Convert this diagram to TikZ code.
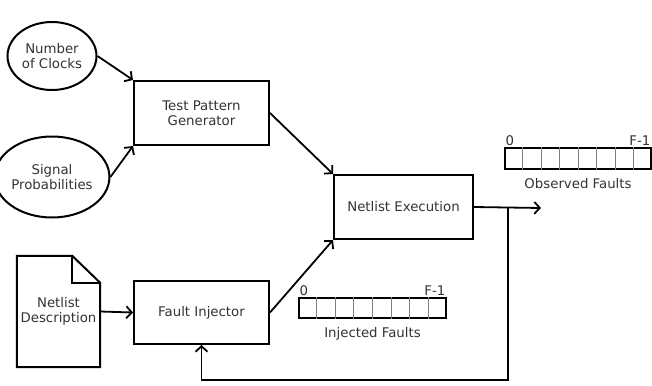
\documentclass[tikz,border=0pt]{standalone}
\usepackage{fontspec}
\setmainfont{DejaVu Sans}
\usetikzlibrary{positioning, arrows.meta, shapes.geometric, calc}

\begin{document}
\begin{tikzpicture}[
    x=1pt, y=-1pt, % Pixel-like units, y pointing down
    font=\fontsize{13.3}{15.5}\selectfont,
    every node/.style={text=black!80},
    box/.style={draw, line width=2pt, minimum width=135pt, minimum height=64pt, align=center}, % Style for process blocks
    source/.style={draw, ellipse, line width=2pt, align=center, inner sep=0pt}, % Style for inputs
    faults/.style={draw, line width=2pt, minimum width=146pt, minimum height=21pt, inner sep=0pt}, % Style for fault arrays
    cell/.style={gray, line width=1pt},
    idx/.style={inner sep=1.5pt},
    flow/.style={line width=1.8pt, -{Straight Barb[length=5.5pt, width=12pt, line width=1.8pt]}}
  ]
    \useasboundingbox (0,0) rectangle (652,385);

    % Define nodes
    \node (clocks) [source, minimum width=89pt, minimum height=68pt] at (52,56)      {Number\\of Clocks};
    \node (signal) [source, minimum width=91pt, minimum height=81pt] at (52,177)     {Signal\\Probabilities};
    \node (tpg)    [box]                                            at (201.5,113)   {Test Pattern\\Generator};
    \node (exec)   [box, minimum width=139pt]                       at (403.5,207)   {Netlist Execution};
    \node (inj)    [box, minimum height=63pt]                       at (201.5,312.5) {Fault Injector};
    \node (desc)   [minimum width=83pt, minimum height=111pt, align=center] at (58.5,311.5) {Netlist\\Description};

    % Document outline with folded corner
    \draw[line width=2pt] (desc.north west) -- ([xshift=-28pt]desc.north east)
      -- ([yshift=-27pt]desc.north east) -- (desc.south east) -- (desc.south west) -- cycle;
    \draw[line width=2pt] ([xshift=-28pt]desc.north east) |- ([yshift=-27pt]desc.north east);

    % Fault arrays
    \node (obs) [faults] at (578,158.5) {};
    \node (injf) [faults, minimum width=147pt, minimum height=20pt] at (372.5,308) {};
    \foreach \arr in {obs, injf}
      \foreach \i in {1,...,7}
        \draw[cell] ($(\arr.north west)!\i/8!(\arr.north east)$) -- ($(\arr.south west)!\i/8!(\arr.south east)$);

    \node (obs0)    [idx, above right=0pt of obs.north west]  {0};
    \node (obsF)    [idx, above left=0pt of obs.north east]   {F-1};
    \node (obslbl)  [below=5pt of obs]                        {Observed Faults};
    \node (injf0)   [idx, above right=0pt of injf.north west] {0};
    \node (injfF)   [idx, above left=0pt of injf.north east]  {F-1};
    \node (injflbl) [below=5pt of injf]                       {Injected Faults};

    \coordinate (out)  at (541,208);
    \coordinate (tap)  at (508,208);
    \coordinate (loop) at (508,380);

    % Draw arrows
    \draw[flow] (clocks.east) -- (tpg.north west);
    \draw[flow] (signal.east) -- (tpg.south west);
    \draw[flow] (tpg.east) -- (exec.north west);
    \draw[flow] (inj.east) -- (exec.south west);
    \draw[flow] (desc.east) -- (inj.west);
    \draw[flow] (exec.east) -- (out);
    \draw[flow] (tap) -- (loop) -| (inj.south); % Feedback loop
\end{tikzpicture}
\end{document}
